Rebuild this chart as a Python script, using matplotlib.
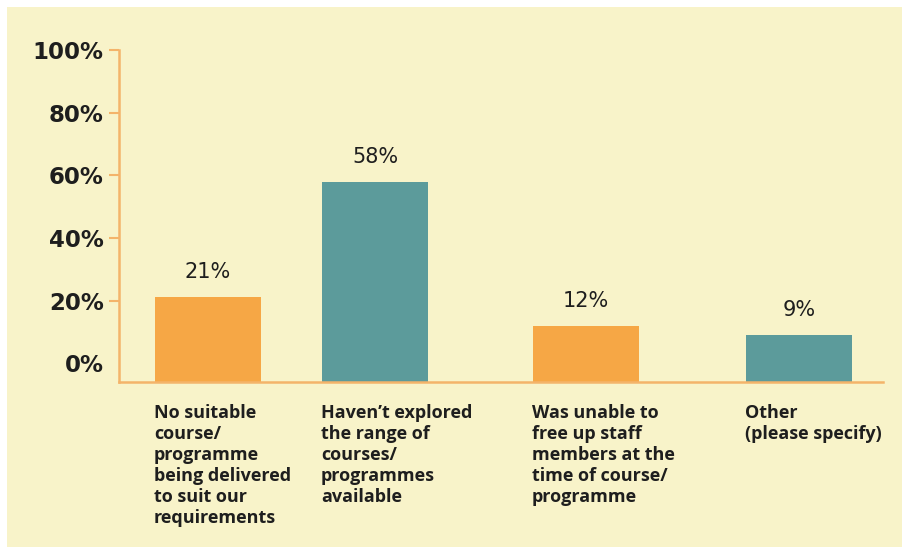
import matplotlib

matplotlib.use("Agg")
import matplotlib.pyplot as plt
from matplotlib.patches import Rectangle

# Survey responses: reasons for not taking up a course/programme
categories = [
    "No suitable\ncourse/\nprogramme\nbeing delivered\nto suit our\nrequirements",
    "Haven\u2019t explored\nthe range of\ncourses/\nprogrammes\navailable",
    "Was unable to\nfree up staff\nmembers at the\ntime of course/\nprogramme",
    "Other\n(please specify)",
]
values = [21, 58, 12, 9]
tick_values = [0, 20, 40, 60, 80, 100]
tick_labels = ["0%", "20%", "40%", "60%", "80%", "100%"]

# Layout / style
x_pos = [0.89, 2.56, 4.665, 6.80]
bar_width = 1.06
bar_colors = ["#F6A745", "#5C9B9B", "#F6A745", "#5C9B9B"]
cream = "#F8F3C9"
axis_color = "#F4B46A"
text_color = "#1E1E1E"
floor = -6

W, H = 902, 549
fig = plt.figure(figsize=(W / 100, H / 100), dpi=100, facecolor="white")

# Cream panel behind the chart
fig.patches.append(
    Rectangle((7 / W, 2 / H), 1 - 7 / W, 1 - 9 / H, transform=fig.transFigure,
              facecolor=cream, edgecolor="none", zorder=-10)
)

ax = fig.add_axes([119 / W, 1 - 382 / H, 764 / W, 332 / H])
ax.set_facecolor("none")
ax.set_zorder(5)

heights = [v - floor for v in values]
ax.bar(x_pos, heights, bottom=floor, width=bar_width, color=bar_colors, zorder=2)

for x, v in zip(x_pos, values):
    ax.annotate(f"{v}%", (x, v), xytext=(0, 18), textcoords="offset points",
                ha="center", va="center", fontsize=15, color=text_color,
                family="DejaVu Sans")

for x, label in zip(x_pos, categories):
    ax.text(x - bar_width / 2 - 0.01, -0.065, label,
            transform=ax.get_xaxis_transform(),
            ha="left", va="top", fontsize=13, fontweight="bold",
            color=text_color, family="Open Sans", linespacing=1.22)

ax.set_xlim(0, 7.64)
ax.set_ylim(floor, 100)
ax.set_xticks([])
ax.set_yticks(tick_values)
ax.set_yticklabels(tick_labels, fontsize=16.5, fontweight="bold",
                   color=text_color, family="DejaVu Sans")
ax.tick_params(axis="y", length=7.5, width=1.5, color=axis_color, pad=3.5)
ax.yaxis.get_major_ticks()[0].tick1line.set_visible(False)

for side in ("top", "right"):
    ax.spines[side].set_visible(False)
for side in ("left", "bottom"):
    ax.spines[side].set_color(axis_color)
    ax.spines[side].set_linewidth(1.8)

fig.savefig("out.png", dpi=100, facecolor="white")
